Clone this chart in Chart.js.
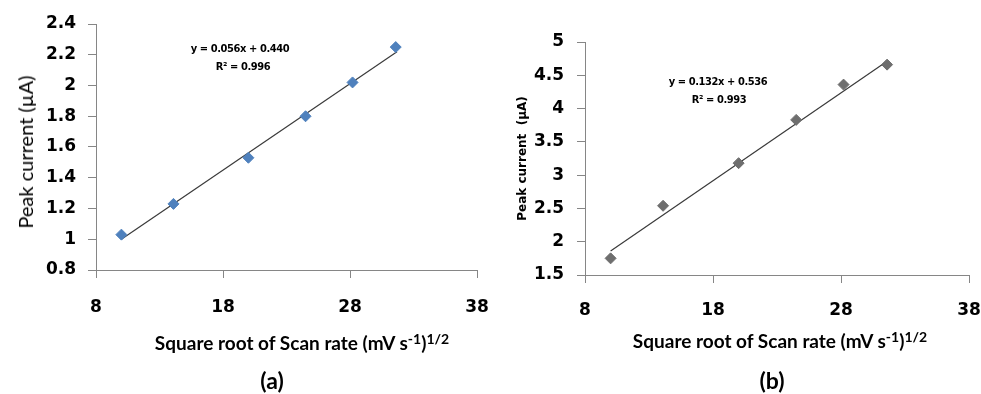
<!DOCTYPE html>
<html>
<head>
<meta charset="utf-8">
<script src="https://cdn.jsdelivr.net/npm/chart.js@4"></script>
<style>
  body { margin: 0; background: #fff; }
  #wrap { position: relative; width: 981px; height: 394px; overflow: hidden; }
  canvas { position: absolute; top: 0; }
  .lbl { position: absolute; white-space: nowrap; color: #000; transform: translate(-50%, -50%); }
  .xt { font: bold 19px Lato, sans-serif; letter-spacing: 0; word-spacing: 0; }
  .xt sup { font-size: 14px; vertical-align: 6px; line-height: 0; }
  .yt { font: 20px Lato, sans-serif; transform: translate(-50%, -50%) rotate(-90deg); }
  .eq { font: bold 11px "DejaVu Sans Condensed", "DejaVu Sans", sans-serif; letter-spacing: -0.4px; }
  .pl { font: bold 23px Lato, sans-serif; }
</style>
</head>
<body>
<div id="wrap">
  <canvas id="chartA" width="490" height="394" style="left:0"></canvas>
  <canvas id="chartB" width="491" height="394" style="left:490px"></canvas>

  <div class="lbl yt" style="left:25px; top:152px">Peak current (µA)</div>

  <div class="lbl xt" style="left:302px; top:342px">Square root of Scan rate (mV s<sup>-1</sup>)<sup>1/2</sup></div>
  <div class="lbl xt" style="left:780px; top:340px">Square root of Scan rate (mV s<sup>-1</sup>)<sup>1/2</sup></div>

  <div class="lbl eq" style="left:240px; top:48px">y = 0.056x + 0.440</div>
  <div class="lbl eq" style="left:243px; top:66px">R² = 0.996</div>
  <div class="lbl eq" style="left:718px; top:81px">y = 0.132x + 0.536</div>
  <div class="lbl eq" style="left:719px; top:99px">R² = 0.993</div>

  <div class="lbl pl" style="left:272px; top:380px">(a)</div>
  <div class="lbl pl" style="left:772px; top:380px">(b)</div>
</div>

<script>
// square root of scan rate, same for both panels
const sqrtRate = [10, 14.1, 20, 24.5, 28.2, 31.6];

// panel (a)
const peakA = [1.03, 1.23, 1.53, 1.80, 2.02, 2.25];
const fitAx = [10, 31.7];
const fitAy = [1.00, 2.22];

// panel (b)
const peakB = [1.75, 2.54, 3.18, 3.83, 4.36, 4.66];
const fitBx = [10, 31.6];
const fitBy = [1.86, 4.71];

const axisGrey = '#868686';

function pts(xs, ys) {
  return xs.map((x, i) => ({ x: x, y: ys[i] }));
}

// drop trailing zeros: 1.0 -> 1, 5.0 -> 5
function tickFmt(v) {
  return String(Math.round(v * 10) / 10);
}

// build one panel
function makePanel(id, o) {
  new Chart(document.getElementById(id), {
    type: 'scatter',
    data: {
      datasets: [
        {
          data: pts(sqrtRate, o.peak),
          pointStyle: 'rectRot',
          pointRadius: 5.5,
          backgroundColor: o.color,
          borderColor: o.color,
          borderWidth: 1,
          order: 1
        },
        {
          type: 'line',
          data: pts(o.fitX, o.fitY),
          borderColor: '#3a3a3a',
          borderWidth: 1.2,
          pointRadius: 0,
          fill: false,
          order: 2
        }
      ]
    },
    options: {
      responsive: false,
      animation: false,
      layout: { padding: { left: 0, right: o.padRight, top: o.top, bottom: 0 } },
      plugins: { legend: { display: false }, tooltip: { enabled: false } },
      scales: {
        x: {
          type: 'linear',
          min: 8, max: 38,
          ticks: { stepSize: 10, padding: o.xPad, color: '#000', callback: tickFmt,
                   font: { family: 'DejaVu Sans', size: 17, weight: 'bold' } },
          grid: { drawOnChartArea: false, color: axisGrey, tickLength: 8 },
          border: { color: axisGrey },
          afterFit: s => {
            s.height = o.xHeight;
            s.paddingLeft = 0; s.paddingRight = 0;
          }
        },
        y: {
          min: o.yMin, max: o.yMax,
          ticks: { stepSize: o.yStep, padding: o.yPad, color: '#000', callback: tickFmt,
                   font: { family: 'DejaVu Sans', size: 17, weight: 'bold' } },
          grid: { drawOnChartArea: false, color: axisGrey, tickLength: 8 },
          border: { color: axisGrey },
          title: { display: !!o.yTitle, text: o.yTitle, color: '#000', font: o.yFont,
                   padding: { top: o.titlePad, bottom: 0 } },
          afterFit: s => {
            s.width = o.yWidth;
            s.paddingTop = 0; s.paddingBottom = 0;
          }
        }
      }
    }
  });
}

// (a) y title is the html label above, it sits a bit below the plot centre
makePanel('chartA', {
  peak: peakA, fitX: fitAx, fitY: fitAy, color: '#4f81bd',
  yMin: 0.8, yMax: 2.4, yStep: 0.2,
  yTitle: '',
  yFont: { family: 'Lato', size: 19 },
  titlePad: 13, yWidth: 96, yPad: 12, xPad: 19,
  top: 24, xHeight: 124, padRight: 13
});

makePanel('chartB', {
  peak: peakB, fitX: fitBx, fitY: fitBy, color: '#6e6e6e',
  yMin: 1.5, yMax: 5, yStep: 0.5,
  yTitle: 'Peak current  (µA)',
  yFont: { family: 'DejaVu Sans', size: 12, weight: 'bold' },
  titlePad: 26, yWidth: 95, yPad: 13, xPad: 17,
  top: 42, xHeight: 119, padRight: 12
});
</script>
</body>
</html>
